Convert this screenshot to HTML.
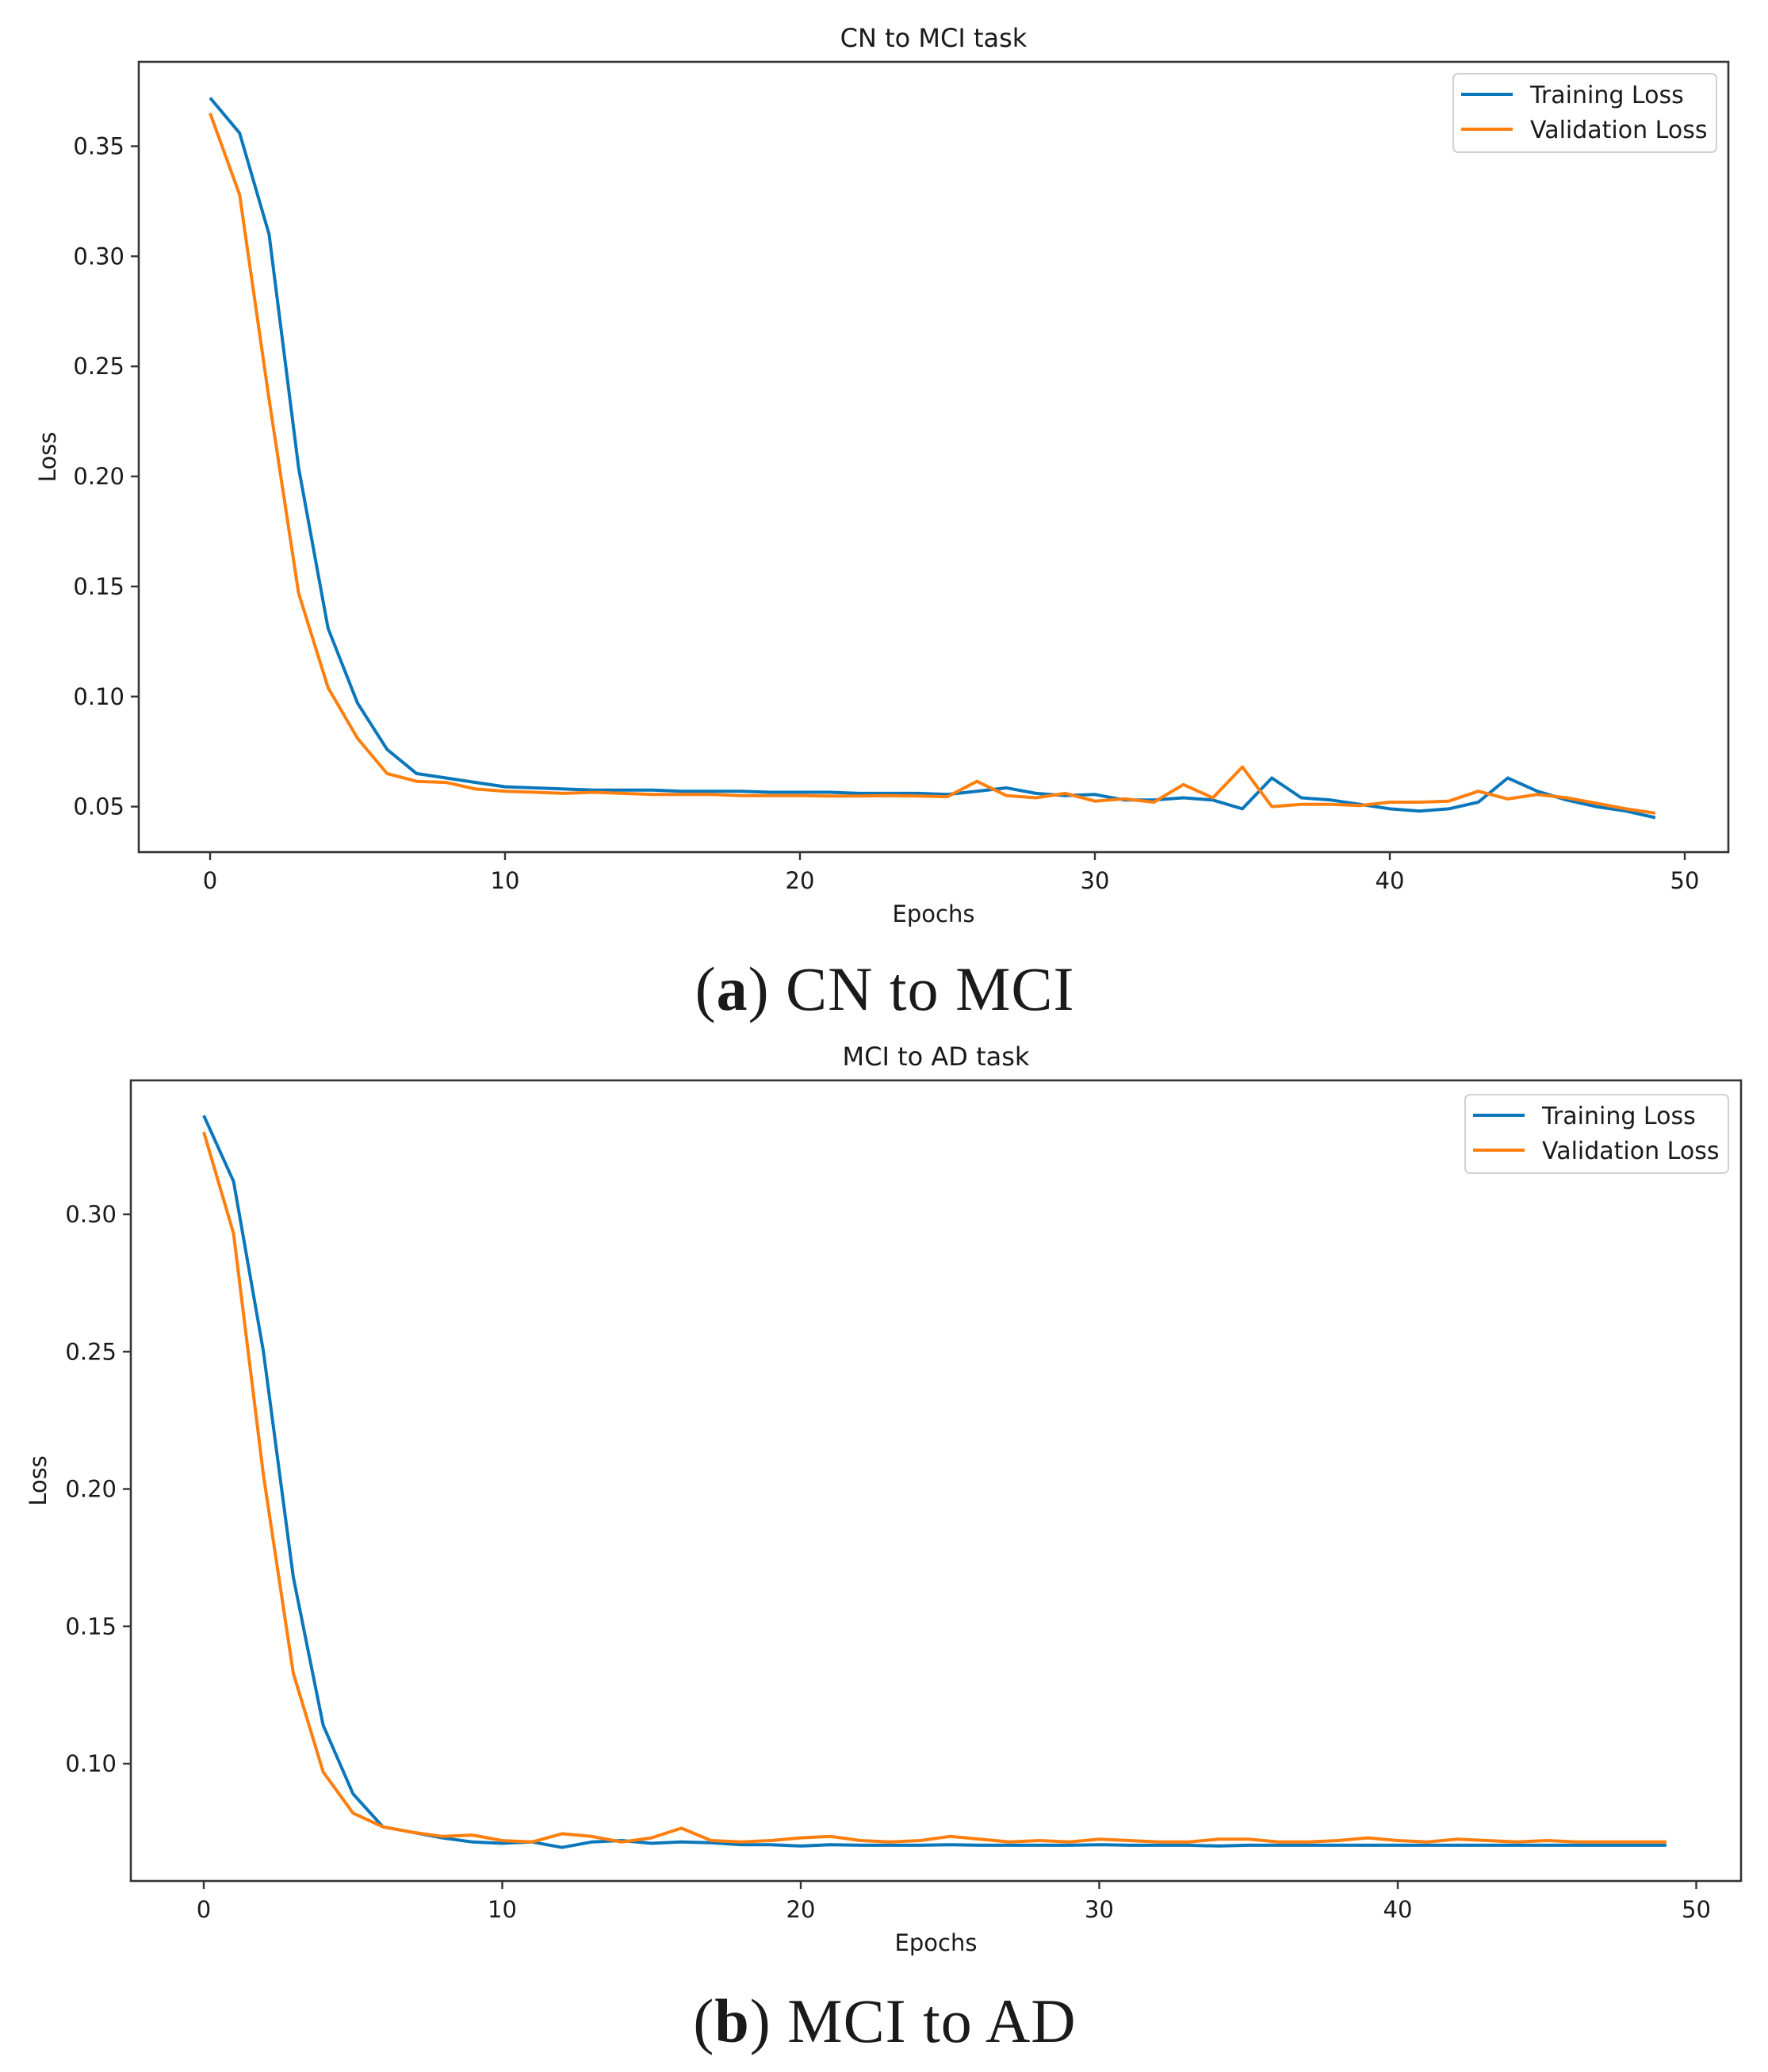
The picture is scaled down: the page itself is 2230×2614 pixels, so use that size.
<!DOCTYPE html>
<html><head><meta charset="utf-8"><style>
html,body{margin:0;padding:0;background:#fff;}
svg{display:block;}
text{font-family:"DejaVu Sans","Liberation Sans",sans-serif;fill:#1a1a1a;}
.cap{font-family:"Liberation Serif",serif;font-size:78px;letter-spacing:1px;}
</style></head><body>
<svg id="fig" width="2230" height="2614" viewBox="0 0 2230 2614" xmlns="http://www.w3.org/2000/svg"></svg>
<script>
const epochs = Array.from({length:50},(_,i)=>i);
const trainA = [0.372,0.356,0.31,0.204,0.131,0.097,0.076,0.065,0.063,0.061,0.059,0.0585,0.058,0.0575,0.0575,0.0575,0.057,0.057,0.057,0.0565,0.0565,0.0565,0.056,0.056,0.056,0.0555,0.057,0.0585,0.056,0.055,0.0555,0.053,0.053,0.054,0.053,0.049,0.063,0.054,0.053,0.051,0.049,0.048,0.049,0.052,0.063,0.057,0.053,0.050,0.048,0.045];
const valA = [0.365,0.328,0.235,0.147,0.104,0.081,0.065,0.0615,0.061,0.058,0.057,0.0565,0.056,0.0565,0.056,0.0555,0.0555,0.0555,0.055,0.055,0.055,0.0548,0.0548,0.055,0.0548,0.0545,0.0615,0.055,0.054,0.056,0.0525,0.0535,0.052,0.060,0.054,0.068,0.050,0.051,0.051,0.0505,0.052,0.052,0.0525,0.057,0.0535,0.0555,0.054,0.0515,0.049,0.047];
const trainB = [0.336,0.312,0.25,0.168,0.114,0.089,0.077,0.075,0.073,0.0715,0.071,0.0715,0.0695,0.0715,0.072,0.071,0.0715,0.0712,0.0705,0.0705,0.070,0.0705,0.0703,0.0703,0.0703,0.0705,0.0703,0.0703,0.0703,0.0703,0.0705,0.0703,0.0703,0.0703,0.070,0.0703,0.0703,0.0703,0.0703,0.0703,0.0703,0.0703,0.0703,0.0703,0.0703,0.0703,0.0703,0.0703,0.0703,0.0703];
const valB = [0.330,0.293,0.205,0.133,0.097,0.082,0.077,0.075,0.0735,0.074,0.072,0.0715,0.0745,0.0735,0.0715,0.073,0.0765,0.072,0.0715,0.072,0.073,0.0735,0.072,0.0715,0.072,0.0735,0.0725,0.0715,0.072,0.0715,0.0725,0.072,0.0715,0.0715,0.0725,0.0725,0.0715,0.0715,0.072,0.073,0.072,0.0715,0.0725,0.072,0.0715,0.072,0.0715,0.0715,0.0715,0.0715];
const xTicksA = [0,10,20,30,40,50];
const yTicksA = [0.05,0.10,0.15,0.20,0.25,0.30,0.35];
const yTicksB = [0.10,0.15,0.20,0.25,0.30];

const NS='http://www.w3.org/2000/svg';
const svg=document.getElementById('fig');
function mk(tag,attrs,parent,txt){const e=document.createElementNS(NS,tag);for(const k in attrs)e.setAttribute(k,attrs[k]);if(txt!==undefined)e.textContent=txt;(parent||svg).appendChild(e);return e;}

function chart(cfg){
  const g=mk('g',{});
  
  
  const sx=v=>cfg.x0+v*cfg.xs;
  const sy=v=>cfg.yRef+(cfg.vRef-v)*cfg.ys;
  const series=[[cfg.train,'#0a77bb','training-loss-line'],[cfg.val,'#ff7f0e','validation-loss-line']];
  series.forEach(([d,c,n])=>{
    const p=mk('polyline',{points:d.map((v,i)=>sx(epochs[i]).toFixed(1)+','+sy(v).toFixed(1)).join(' '),fill:'none',stroke:c,'stroke-width':4,'stroke-linejoin':'round'},g);
    
    
  });
  const fr=mk('rect',{x:cfg.L,y:cfg.T,width:cfg.R-cfg.L,height:cfg.B-cfg.T,fill:'none',stroke:'#333','stroke-width':2.6},g);
  
  
  xTicksA.forEach(t=>{
    const x=sx(t);
    mk('line',{x1:x,x2:x,y1:cfg.B,y2:cfg.B+10,stroke:'#333','stroke-width':2.4},g);
    const tx=mk('text',{x:x,y:cfg.B+46,'font-size':29,'text-anchor':'middle'},g,String(t));
    
    
  });
  cfg.yTicks.forEach(t=>{
    const y=sy(t);
    mk('line',{x1:cfg.L-10,x2:cfg.L,y1:y,y2:y,stroke:'#333','stroke-width':2.4},g);
    const tx=mk('text',{x:cfg.L-18,y:y+10,'font-size':29,'text-anchor':'end'},g,t.toFixed(2));
    
    
  });
  const ti=mk('text',{x:(cfg.L+cfg.R)/2,y:cfg.T-19,'font-size':32,'text-anchor':'middle'},g,cfg.title);
  
  
  const xl=mk('text',{x:(cfg.L+cfg.R)/2,y:cfg.B+88,'font-size':29,'text-anchor':'middle'},g,'Epochs');
  
  
  const yl=mk('text',{x:cfg.ylx,y:(cfg.T+cfg.B)/2,'font-size':29,'text-anchor':'middle',transform:`rotate(-90 ${cfg.ylx} ${(cfg.T+cfg.B)/2})`},g,'Loss');
  
  
  const lg=mk('g',{},g);
  
  
  const lx=cfg.legX, ly=cfg.legY;
  mk('rect',{x:lx,y:ly,width:332,height:99,rx:6,fill:'#fff',stroke:'#d0d0d0','stroke-width':2},lg);
  [['Training Loss','#0a77bb'],['Validation Loss','#ff7f0e']].forEach(([lab,c],i)=>{
    const yy=ly+26+i*44;
    mk('line',{x1:lx+10,x2:lx+75,y1:yy,y2:yy,stroke:c,'stroke-width':4},lg);
    const tx=mk('text',{x:lx+97,y:yy+11,'font-size':30},lg,lab);
    
    
  });
}

chart({name:'cn-to-mci-chart',title:'CN to MCI task',train:trainA,val:valA,yTicks:yTicksA,
  L:175,R:2180,T:78,B:1075,x0:265,xs:37.2,yRef:184.5,vRef:0.35,ys:2777,ylx:70,legX:1833,legY:93});
chart({name:'mci-to-ad-chart',title:'MCI to AD task',train:trainB,val:valB,yTicks:yTicksB,
  L:165,R:2196,T:1363,B:2373,x0:257,xs:37.65,yRef:1532,vRef:0.30,ys:3465,ylx:58,legX:1848,legY:1381});

const c1=mk('text',{x:1116,y:1274,'text-anchor':'middle',class:'cap'});
c1.innerHTML='(<tspan font-weight="bold">a</tspan>) CN to MCI';


const c2=mk('text',{x:1116,y:2576,'text-anchor':'middle',class:'cap'});
c2.innerHTML='(<tspan font-weight="bold">b</tspan>) MCI to AD';


</script>
</body></html>
